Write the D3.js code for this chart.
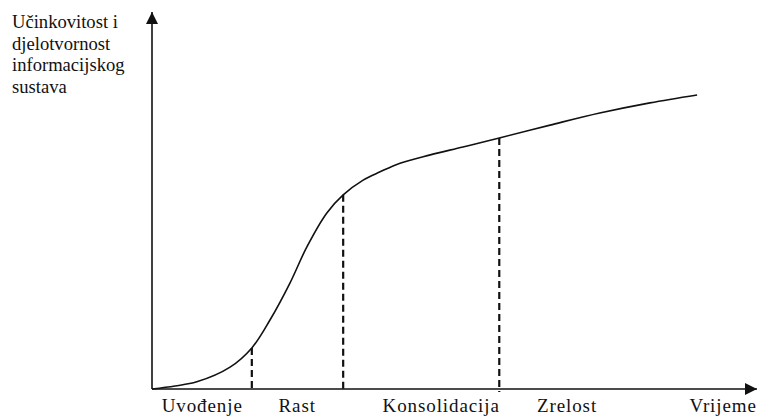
<!DOCTYPE html>
<html><head><meta charset="utf-8">
<script src="https://cdn.jsdelivr.net/npm/d3@7"></script>
<style>body{margin:0;background:#fff}svg{display:block}</style>
</head><body>
<script>
// curve data (time, effectiveness), arbitrary units 0..100
const timeVals = [0,3.8,7.4,12.9,16.5,19.5,22.8,25.6,28.9,31.6,34.9,37.7,41.0,46.0,51.4,57.4,65.8,74.0,82.3,90.1];
const effVals  = [0,0.8,1.9,5.8,10.9,18.3,28.1,37.7,46.7,51.5,55.4,57.6,59.9,62.1,64.2,66.6,70.0,73.2,75.9,78.0];
// phase boundaries (time, effectiveness at boundary)
const boundaryT = [16.5,31.6,57.4];
const boundaryY = [10.9,51.5,66.6];
// phase labels and their centre position on the time axis
const phaseNames = ["Uvođenje","Rast","Konsolidacija","Zrelost","Vrijeme"];
const phaseT = [8.3,24.0,47.8,68.6,94.4];
const yTitle = ["Učinkovitost i","djelotvornost","informacijskog","sustava"];

const FONT = '"Liberation Serif"';
const W=759,H=417;
const svg=d3.select("body").append("svg").attr("width",W).attr("height",H);
const x=d3.scaleLinear().domain([0,100]).range([152,757]);
const y=d3.scaleLinear().domain([0,100]).range([389,12]);

const defs=svg.append("defs");
defs.append("marker").attr("id","arr").attr("viewBox","0 0 10 10").attr("refX",10).attr("refY",5)
  .attr("markerWidth",14).attr("markerHeight",12).attr("markerUnits","userSpaceOnUse").attr("orient","auto")
  .append("path").attr("d","M0,0L10,5L0,10Z").attr("fill","#111");

// axes
svg.append("line").attr("x1",x(0)).attr("y1",y(0)).attr("x2",x(0)).attr("y2",y(100))
  .attr("stroke","#111").attr("stroke-width",1.6).attr("marker-end","url(#arr)");
svg.append("line").attr("x1",x(0)).attr("y1",y(0)).attr("x2",x(100)).attr("y2",y(0))
  .attr("stroke","#111").attr("stroke-width",1.6).attr("marker-end","url(#arr)");

// dashed boundaries
svg.selectAll(".b").data(boundaryT).enter().append("line")
  .attr("x1",d=>x(d)).attr("x2",d=>x(d))
  .attr("y1",(d,i)=>y(boundaryY[i])).attr("y2",y(0)+3)
  .attr("stroke","#111").attr("stroke-width",2.2).attr("stroke-dasharray","7,4");

// curve
const pts=timeVals.map((t,i)=>[t,effVals[i]]);
svg.append("path").datum(pts)
  .attr("d",d3.line().x(d=>x(d[0])).y(d=>y(d[1])).curve(d3.curveCatmullRom.alpha(0.5)))
  .attr("fill","none").attr("stroke","#111").attr("stroke-width",1.6);

// phase labels
svg.selectAll(".pl").data(phaseNames).enter().append("text")
  .attr("x",(d,i)=>x(phaseT[i])).attr("y",412).attr("text-anchor","middle")
  .style("font-family",FONT).attr("font-size",19).style("letter-spacing","0.9px")
  .attr("fill","#111").text(d=>d);

// y title
yTitle.forEach((line,i)=>{
  svg.append("text").attr("x",12).attr("y",28+i*21.7)
    .style("font-family",FONT).attr("font-size",18.6).attr("fill","#111").text(line);
});
</script>
</body></html>
